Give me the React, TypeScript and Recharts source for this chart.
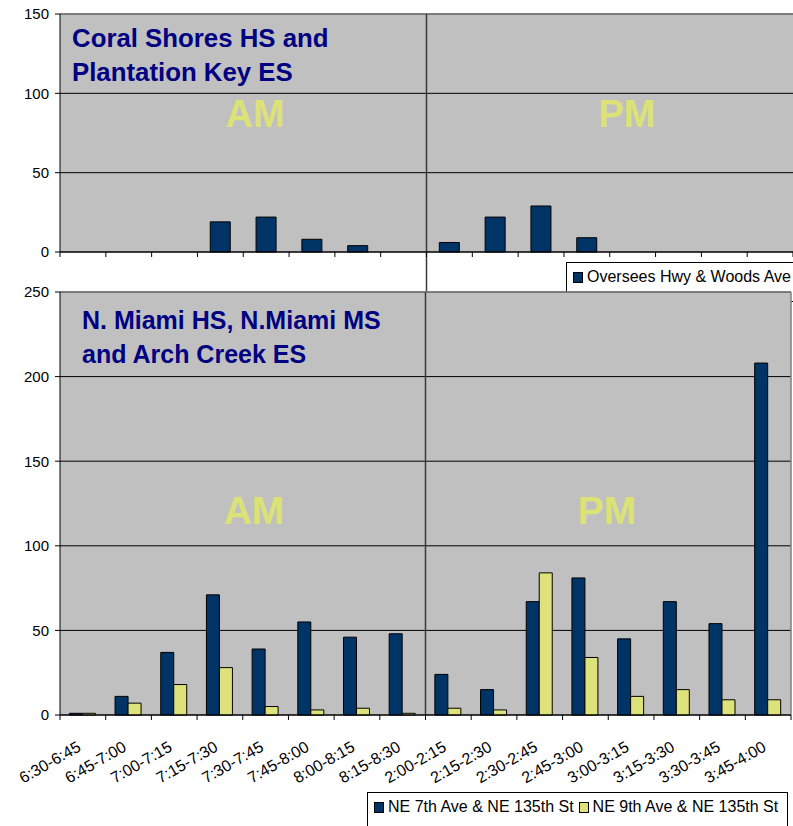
import React from "react";
import {
  BarChart, Bar, XAxis, YAxis, CartesianGrid, ReferenceLine, Legend,
} from "recharts";

const slots = [
  "6:30-6:45", "6:45-7:00", "7:00-7:15", "7:15-7:30", "7:30-7:45", "7:45-8:00", "8:00-8:15", "8:15-8:30",
  "2:00-2:15", "2:15-2:30", "2:30-2:45", "2:45-3:00", "3:00-3:15", "3:15-3:30", "3:30-3:45", "3:45-4:00",
];
const overseesHwy = [0, 0, 0, 19, 22, 8, 4, 0, 6, 22, 29, 9, 0, 0, 0, 0];
const ne7thAve = [1, 11, 37, 71, 39, 55, 46, 48, 24, 15, 67, 81, 45, 67, 54, 208];
const ne9thAve = [1, 7, 18, 28, 5, 3, 4, 1, 4, 3, 84, 34, 11, 15, 9, 9];
const topTicks = [0, 50, 100, 150];
const bottomTicks = [0, 50, 100, 150, 200, 250];
const pmStart = "2:00-2:15";

const topData = slots.map((slot, i) => ({ slot, oversees: overseesHwy[i] }));
const bottomData = slots.map((slot, i) => ({ slot, ne7: ne7thAve[i], ne9: ne9thAve[i] }));

const NAVY = "#003366";
const YELLOW = "#DEE27A";
const LABEL_YELLOW = "#DCE276";
const TITLE = "#000080";
const FONT = "'Liberation Sans', Arial, sans-serif";
const W = 793;
const Y_W = 60;

// excel style: tick marks sit between categories, labels slanted
function SlotTick(props: any) {
  const { x, y, payload, index, band, showLabel } = props;
  const last = index === slots.length - 1;
  return (
    <g>
      <line x1={x - band / 2} y1={y} x2={x - band / 2} y2={y + 5} stroke="#000" />
      {last && <line x1={x + band / 2} y1={y} x2={x + band / 2} y2={y + 5} stroke="#000" />}
      {showLabel && (
        <g transform={`translate(${x - 1},${y + 35})`}>
          <text x={0} y={0} transform="rotate(-30)" textAnchor="end" fontSize={16} fontFamily={FONT} fill="#000">
            {payload.value}
          </text>
        </g>
      )}
    </g>
  );
}

const divider = (extra: number) => (p: any) => (
  <line
    x1={p.x1}
    x2={p.x2}
    y1={Math.min(p.y1, p.y2)}
    y2={Math.max(p.y1, p.y2) + extra}
    stroke="#3a3a3a"
    strokeWidth={1.5}
  />
);

function LegendBox(props: any) {
  const { payload } = props;
  return (
    <div
      style={{
        boxSizing: "border-box",
        height: "100%",
        background: "#fff",
        border: "1px solid #000",
        fontFamily: FONT,
        fontSize: 16,
        color: "#000",
        display: "flex",
        alignItems: "flex-start",
        paddingTop: 5,
        paddingLeft: 6,
        whiteSpace: "nowrap",
      }}
    >
      {(payload || []).map((entry: any) => (
        <span key={entry.value} style={{ display: "inline-flex", alignItems: "center", marginRight: 5 }}>
          <span
            style={{
              display: "inline-block",
              width: 8,
              height: 9,
              background: entry.color,
              border: "1px solid #000",
              marginRight: 4,
            }}
          />
          {entry.value}
        </span>
      ))}
    </div>
  );
}

const axisText = { fontSize: 15, fill: "#000", fontFamily: FONT };

export default function App() {
  const topBand = (W - Y_W) / slots.length;
  const bottomBand = (W - 2 - Y_W) / slots.length;

  return (
    <div style={{ position: "absolute", left: 0, top: 0, width: W, height: 826, overflow: "hidden", background: "#fff" }}>
      <div style={{ position: "absolute", left: 0, top: 0 }}>
        <BarChart
          width={W}
          height={292}
          data={topData}
          margin={{ top: 14, right: 0, left: 0, bottom: 35 }}
          barCategoryGap="28%"
        >
          <CartesianGrid vertical={false} stroke="#000" fill="#C0C0C0" fillOpacity={1} />
          <XAxis
            dataKey="slot"
            height={5}
            interval={0}
            tickLine={false}
            tickSize={0}
            tickMargin={0}
            axisLine={{ stroke: "#000" }}
            tick={(p: any) => <SlotTick {...p} band={topBand} showLabel={false} />}
          />
          <YAxis
            domain={[0, 150]}
            ticks={topTicks}
            interval={0}
            width={Y_W}
            tickSize={5}
            tickMargin={6}
            axisLine={{ stroke: "#000" }}
            tickLine={{ stroke: "#000" }}
            tick={axisText}
          />
          <ReferenceLine y={150} stroke="#808080" strokeWidth={1.5} />
          <ReferenceLine x={pmStart} position="start" ifOverflow="visible" shape={divider(39)} />
          <Bar
            dataKey="oversees"
            name="Oversees Hwy & Woods Ave"
            fill={NAVY}
            stroke="#000"
            strokeWidth={1}
            isAnimationActive={false}
          />
          <Legend
            layout="vertical"
            align="center"
            verticalAlign="middle"
            wrapperStyle={{ top: 262, left: 566, width: 240, height: 40 }}
            content={(p: any) => <LegendBox {...p} />}
          />
          <text x={72} y={47} fontSize={25.8} fontWeight="bold" fill={TITLE} fontFamily={FONT}>
            Coral Shores HS and
          </text>
          <text x={72} y={81} fontSize={25.8} fontWeight="bold" fill={TITLE} fontFamily={FONT}>
            Plantation Key ES
          </text>
          <text x={255} y={127} fontSize={38} fontWeight="bold" fill={LABEL_YELLOW} fontFamily={FONT} textAnchor="middle">
            AM
          </text>
          <text x={627} y={127} fontSize={38} fontWeight="bold" fill={LABEL_YELLOW} fontFamily={FONT} textAnchor="middle">
            PM
          </text>
        </BarChart>
      </div>

      <div style={{ position: "absolute", left: 0, top: 270 }}>
        <BarChart
          width={W}
          height={556}
          data={bottomData}
          margin={{ top: 22, right: 2, left: 0, bottom: 0 }}
          barCategoryGap="20.5%"
          barGap={0}
        >
          <CartesianGrid vertical={false} stroke="#000" fill="#C0C0C0" fillOpacity={1} />
          <XAxis
            dataKey="slot"
            height={111}
            interval={0}
            tickLine={false}
            tickSize={0}
            tickMargin={0}
            axisLine={{ stroke: "#000" }}
            tick={(p: any) => <SlotTick {...p} band={bottomBand} showLabel />}
          />
          <YAxis
            domain={[0, 250]}
            ticks={bottomTicks}
            interval={0}
            width={Y_W}
            tickSize={5}
            tickMargin={6}
            axisLine={{ stroke: "#000" }}
            tickLine={{ stroke: "#000" }}
            tick={axisText}
          />
          <ReferenceLine y={250} stroke="#808080" strokeWidth={1.5} />
          <ReferenceLine x={slots[slots.length - 1]} position="end" stroke="#808080" strokeWidth={1.5} />
          <ReferenceLine x={pmStart} position="start" ifOverflow="visible" shape={divider(0)} />
          <Bar
            dataKey="ne7"
            name="NE 7th Ave & NE 135th St"
            fill={NAVY}
            stroke="#000"
            strokeWidth={1}
            isAnimationActive={false}
          />
          <Bar
            dataKey="ne9"
            name="NE 9th Ave & NE 135th St"
            fill={YELLOW}
            stroke="#000"
            strokeWidth={1}
            isAnimationActive={false}
          />
          <Legend
            layout="vertical"
            align="center"
            verticalAlign="middle"
            wrapperStyle={{ top: 522, left: 367, width: 421, height: 40 }}
            content={(p: any) => <LegendBox {...p} />}
          />
          <text x={82} y={59} fontSize={25} fontWeight="bold" fill={TITLE} fontFamily={FONT}>
            N. Miami HS, N.Miami MS
          </text>
          <text x={82} y={93} fontSize={25} fontWeight="bold" fill={TITLE} fontFamily={FONT}>
            and Arch Creek ES
          </text>
          <text x={254} y={254} fontSize={39} fontWeight="bold" fill={LABEL_YELLOW} fontFamily={FONT} textAnchor="middle">
            AM
          </text>
          <text x={607} y={254} fontSize={39} fontWeight="bold" fill={LABEL_YELLOW} fontFamily={FONT} textAnchor="middle">
            PM
          </text>
        </BarChart>
      </div>
    </div>
  );
}
